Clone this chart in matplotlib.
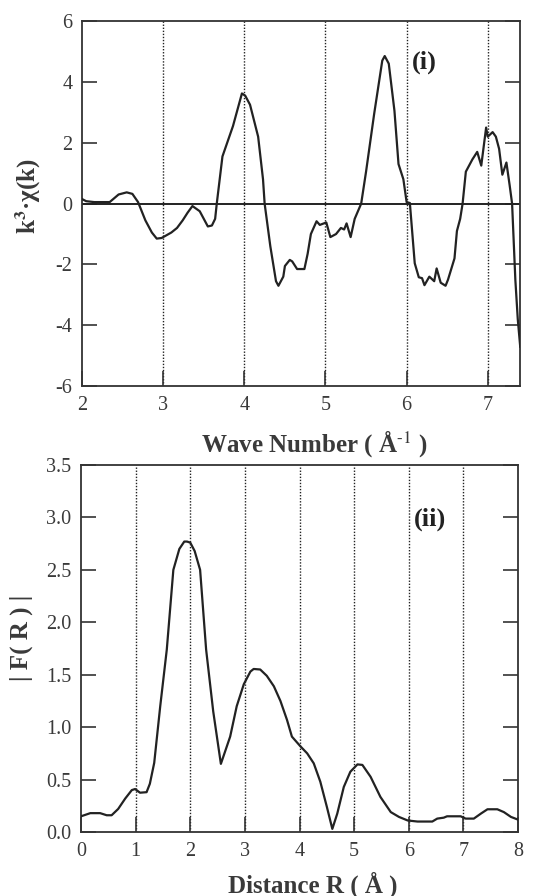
#!/usr/bin/env python3
"""
EXAFS plot: k^3-weighted chi(k) and its Fourier transform |F(R)|.
"""

import matplotlib

matplotlib.use("Agg")
import matplotlib.pyplot as plt

plt.rcParams["font.family"] = ["Liberation Serif", "DejaVu Serif"]
plt.rcParams["mathtext.fontset"] = "stix"
plt.rcParams["axes.unicode_minus"] = False

# (i) k^3 chi(k) vs wave number
k_values = [
    2.00, 2.05, 2.15, 2.34, 2.45, 2.55, 2.62, 2.69, 2.78, 2.86, 2.92, 2.98,
    3.10, 3.17, 3.24, 3.30, 3.36, 3.45, 3.55, 3.60, 3.64, 3.66, 3.73, 3.86,
    3.97, 4.01, 4.07, 4.17, 4.23, 4.25, 4.32, 4.39, 4.42, 4.48, 4.50, 4.56,
    4.59, 4.65, 4.74, 4.78, 4.82, 4.89, 4.93, 5.01, 5.06, 5.13, 5.19, 5.23,
    5.26, 5.31, 5.36, 5.44, 5.50, 5.60, 5.70, 5.73, 5.78, 5.85, 5.90, 5.96,
    6.00, 6.04, 6.10, 6.15, 6.19, 6.22, 6.28, 6.34, 6.37, 6.42, 6.48, 6.51,
    6.59, 6.62, 6.66, 6.69, 6.73, 6.81, 6.87, 6.92, 6.98, 7.00, 7.06, 7.10,
    7.14, 7.18, 7.23, 7.27, 7.30, 7.34, 7.37, 7.40,
]
chi_values = [
    0.15, 0.08, 0.05, 0.05, 0.30, 0.37, 0.32, 0.05, -0.55, -0.95, -1.15, -1.13,
    -0.95, -0.80, -0.55, -0.30, -0.08, -0.25, -0.75, -0.72, -0.50, 0.00, 1.55, 2.55,
    3.62, 3.55, 3.25, 2.20, 0.80, 0.00, -1.40, -2.55, -2.70, -2.40, -2.05, -1.85,
    -1.90, -2.15, -2.15, -1.65, -1.00, -0.58, -0.70, -0.62, -1.10, -1.00, -0.80, -0.85,
    -0.65, -1.10, -0.50, 0.00, 1.05, 2.95, 4.70, 4.85, 4.60, 3.05, 1.30, 0.80,
    0.05, 0.02, -1.96, -2.42, -2.45, -2.68, -2.40, -2.55, -2.13, -2.60, -2.70, -2.50,
    -1.80, -0.90, -0.50, 0.00, 1.05, 1.45, 1.70, 1.25, 2.50, 2.20, 2.35, 2.20,
    1.80, 0.95, 1.35, 0.60, 0.00, -2.50, -3.80, -4.70,
]

# (ii) |F(R)| vs distance R
r_values = [
    0.00, 0.17, 0.35, 0.47, 0.56, 0.68, 0.81, 0.93, 0.99, 1.08, 1.20, 1.26,
    1.34, 1.45, 1.57, 1.69, 1.80, 1.89, 1.94, 2.00, 2.08, 2.18, 2.29, 2.42,
    2.56, 2.73, 2.85, 2.98, 3.10, 3.16, 3.28, 3.40, 3.53, 3.65, 3.77, 3.86,
    4.02, 4.14, 4.26, 4.38, 4.50, 4.60, 4.69, 4.81, 4.93, 5.06, 5.15, 5.30,
    5.48, 5.67, 5.82, 5.98, 6.16, 6.43, 6.52, 6.64, 6.70, 6.95, 7.04, 7.19,
    7.32, 7.44, 7.62, 7.74, 7.87, 8.00,
]
fr_values = [
    0.15, 0.18, 0.18, 0.16, 0.16, 0.22, 0.32, 0.40, 0.41, 0.375, 0.38, 0.46,
    0.66, 1.20, 1.74, 2.50, 2.70, 2.77, 2.77, 2.76, 2.68, 2.50, 1.74, 1.15,
    0.65, 0.91, 1.20, 1.41, 1.53, 1.555, 1.55, 1.49, 1.39, 1.25, 1.07, 0.91,
    0.815, 0.75, 0.655, 0.48, 0.24, 0.03, 0.175, 0.43, 0.575, 0.645, 0.64, 0.527,
    0.335, 0.19, 0.144, 0.11, 0.10, 0.10, 0.128, 0.137, 0.15, 0.15, 0.128, 0.128,
    0.176, 0.217, 0.217, 0.19, 0.144, 0.118,
]

top_grid = [3, 4, 5, 6, 7]
bottom_grid = [1, 2, 3, 4, 5, 6, 7]

EDGE = "#333333"
TEXT = "#3a3a3a"
LABEL_SIZE = 18


def style_axis(ax):
    for spine in ax.spines.values():
        spine.set_color(EDGE)
        spine.set_linewidth(1.3)
    ax.tick_params(
        axis="both", direction="in", length=11, width=1.2, color=EDGE,
        labelcolor=TEXT, labelsize=14.5, pad=7,
    )
    ax.tick_params(axis="y", right=True)


fig = plt.figure(figsize=(5.33, 8.96), dpi=100)

# (i) chi(k)
ax1 = fig.add_axes([0.154, 0.569, 0.822, 0.4075])
for x in top_grid:
    ax1.axvline(x, color="#222222", linestyle=(0, (1, 1.2)), linewidth=1.0, zorder=1)
ax1.axhline(0, color="#222222", linewidth=1.4, zorder=2)
ax1.plot(k_values, chi_values, color="#222222", linewidth=1.6, zorder=3)
ax1.set_xlim(2, 7.4)
ax1.set_ylim(-6, 6)
ax1.set_xticks([2, 3, 4, 5, 6, 7])
ax1.set_yticks([-6, -4, -2, 0, 2, 4, 6])
style_axis(ax1)
ax1.set_xlabel(r"Wave Number ( Å$^{\text{-1}}$ )", fontsize=LABEL_SIZE,
               fontweight="bold", color=TEXT)
ax1.xaxis.set_label_coords(0.53, -0.115)
ax1.set_ylabel("k$^{\\mathbf{3}}$·χ(k)", fontsize=LABEL_SIZE, fontweight="bold",
               color=TEXT)
ax1.yaxis.set_label_coords(-0.09, 0.52)
ax1.text(6.07, 4.65, "(i)", fontsize=19, fontweight="bold", color="#222222",
         va="center")

# (ii) |F(R)|
ax2 = fig.add_axes([0.152, 0.0714, 0.820, 0.4096])
for x in bottom_grid:
    ax2.axvline(x, color="#222222", linestyle=(0, (1, 1.2)), linewidth=1.0, zorder=1)
ax2.plot(r_values, fr_values, color="#222222", linewidth=1.6, zorder=3)
ax2.set_xlim(0, 8)
ax2.set_ylim(0, 3.5)
ax2.set_xticks(range(9))
ax2.set_yticks([0.0, 0.5, 1.0, 1.5, 2.0, 2.5, 3.0, 3.5])
ax2.set_yticklabels([f"{v:.1f}" for v in ax2.get_yticks()])
style_axis(ax2)
ax2.set_xlabel("Distance R ( Å )", fontsize=LABEL_SIZE, fontweight="bold", color=TEXT)
ax2.xaxis.set_label_coords(0.53, -0.107)
ax2.set_ylabel("| F( R ) |", fontsize=LABEL_SIZE, fontweight="bold", color=TEXT)
ax2.yaxis.set_label_coords(-0.11, 0.53)
ax2.text(6.1, 2.98, "(ii)", fontsize=19, fontweight="bold", color="#222222",
         va="center")

fig.savefig("out.png", dpi=100)
